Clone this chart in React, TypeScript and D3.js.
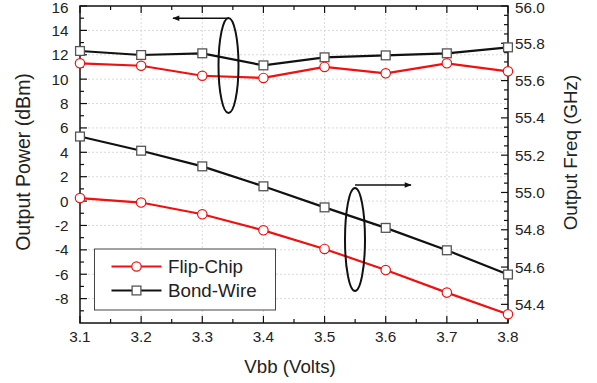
import React from "react";
import * as d3 from "d3";

const vbb = [3.1, 3.2, 3.3, 3.4, 3.5, 3.6, 3.7, 3.8];
const powerFlipChip = [11.3, 11.1, 10.28, 10.1, 11.0, 10.48, 11.3, 10.64];
const powerBondWire = [12.31, 11.98, 12.12, 11.13, 11.79, 11.95, 12.12, 12.61];
const freqFlipChip = [54.97, 54.946, 54.883, 54.797, 54.697, 54.584, 54.463, 54.347];
const freqBondWire = [55.3, 55.224, 55.14, 55.033, 54.92, 54.81, 54.69, 54.56];

const xTicks = [3.1, 3.2, 3.3, 3.4, 3.5, 3.6, 3.7, 3.8];
const leftTicks = [-8, -6, -4, -2, 0, 2, 4, 6, 8, 10, 12, 14, 16];
const rightTicks = [54.4, 54.6, 54.8, 55.0, 55.2, 55.4, 55.6, 55.8, 56.0];
const legendLabels = ["Flip-Chip", "Bond-Wire"];

const W = 597, H = 383;
const L = 80, R = 508, T = 6, B = 323;
const RED = "#f01010";
const FONT = "'Liberation Sans', Arial, Helvetica, sans-serif";

export default function App() {
  const x = d3.scaleLinear().domain([3.1, 3.8]).range([L, R]);
  const yL = d3.scaleLinear().domain([-10, 16]).range([B, T]);
  const yR = d3.scaleLinear().domain([54.3, 56.0]).range([B, T]);

  const lineL = d3.line<number>().x((_, i) => x(vbb[i])).y((d) => yL(d));
  const lineR = d3.line<number>().x((_, i) => x(vbb[i])).y((d) => yR(d));

  const xMinor = d3.range(3.15, 3.8, 0.1);
  const leftMinor = d3.range(-9, 16, 2);
  const rightMinor = d3.range(54.35, 56.0, 0.05).filter((v) => Math.abs(Math.round(v * 5) - v * 5) > 0.01);

  const labelY = (py: number) => Math.max(py + 5.5, 12.5);

  const circle = (cx: number, cy: number, k: string) => (
    <circle key={k} cx={cx} cy={cy} r={4.7} fill="white" stroke={RED} strokeWidth={1.2} />
  );
  const square = (cx: number, cy: number, k: string) => (
    <rect key={k} x={cx - 4.4} y={cy - 4.4} width={8.8} height={8.8} fill="white" stroke="#555" strokeWidth={1.3} />
  );

  return (
    <svg width={W} height={H} style={{ position: "absolute", left: 0, top: 0, background: "white" }} fontFamily={FONT}>
      <defs>
        <marker id="ah" viewBox="0 0 10 10" refX="9" refY="5" markerWidth="9" markerHeight="7" orient="auto-start-reverse" markerUnits="userSpaceOnUse">
          <path d="M0,1 L10,5 L0,9 Z" fill="#111" />
        </marker>
      </defs>
      {/* grid */}
      <g stroke="#d0d0d0" strokeWidth={0.8} strokeDasharray="2,2">
        {xTicks.slice(1, -1).map((t) => (
          <line key={"gx" + t} x1={x(t)} x2={x(t)} y1={T} y2={B} />
        ))}
        {leftTicks.slice(0, -1).map((t) => (
          <line key={"gy" + t} x1={L} x2={R} y1={yL(t)} y2={yL(t)} />
        ))}
      </g>
      {/* ticks */}
      <g stroke="#111" strokeWidth={1.2}>
        {xTicks.map((t) => (
          <g key={"xt" + t}>
            <line x1={x(t)} x2={x(t)} y1={B} y2={B - 7} />
            <line x1={x(t)} x2={x(t)} y1={T} y2={T + 7} />
          </g>
        ))}
        {xMinor.map((t) => (
          <g key={"xm" + t}>
            <line x1={x(t)} x2={x(t)} y1={B} y2={B - 4} />
            <line x1={x(t)} x2={x(t)} y1={T} y2={T + 4} />
          </g>
        ))}
        {leftTicks.map((t) => (
          <line key={"lt" + t} x1={L} x2={L + 7} y1={yL(t)} y2={yL(t)} />
        ))}
        {leftMinor.map((t) => (
          <line key={"lm" + t} x1={L} x2={L + 4} y1={yL(t)} y2={yL(t)} />
        ))}
        {rightTicks.map((t) => (
          <line key={"rt" + t} x1={R} x2={R - 7} y1={yR(t)} y2={yR(t)} />
        ))}
        {rightMinor.map((t) => (
          <line key={"rm" + t} x1={R} x2={R - 4} y1={yR(t)} y2={yR(t)} />
        ))}
      </g>
      {/* frame */}
      <rect x={L} y={T} width={R - L} height={B - T} fill="none" stroke="#111" strokeWidth={1.5} />
      {/* tick labels */}
      <g fontSize={15.3} fill="#222">
        {xTicks.map((t) => (
          <text key={"xl" + t} x={x(t)} y={342} textAnchor="middle">{t.toFixed(1)}</text>
        ))}
        {leftTicks.map((t) => (
          <text key={"ll" + t} x={68.5} y={labelY(yL(t))} textAnchor="end">{t}</text>
        ))}
        {rightTicks.map((t) => (
          <text key={"rl" + t} x={515} y={labelY(yR(t))} textAnchor="start">{t.toFixed(1)}</text>
        ))}
      </g>
      {/* axis titles */}
      <g fill="#222">
        <text x={290} y={373} textAnchor="middle" fontSize={18.7}>Vbb (Volts)</text>
        <text transform="translate(30,162) rotate(-90)" textAnchor="middle" fontSize={19.5}>Output Power (dBm)</text>
        <text transform="translate(576.5,152.5) rotate(-90)" textAnchor="middle" fontSize={18.8}>Output Freq (GHz)</text>
      </g>
      {/* data lines */}
      <g fill="none" strokeWidth={2.2}>
        <path d={lineL(powerBondWire) || ""} stroke="#111" />
        <path d={lineL(powerFlipChip) || ""} stroke={RED} />
        <path d={lineR(freqBondWire) || ""} stroke="#111" />
        <path d={lineR(freqFlipChip) || ""} stroke={RED} />
      </g>
      {powerBondWire.map((v, i) => square(x(vbb[i]), yL(v), "pb" + i))}
      {powerFlipChip.map((v, i) => circle(x(vbb[i]), yL(v), "pf" + i))}
      {freqBondWire.map((v, i) => square(x(vbb[i]), yR(v), "fb" + i))}
      {freqFlipChip.map((v, i) => circle(x(vbb[i]), yR(v), "ff" + i))}
      {/* annotations */}
      <g fill="none" stroke="#111" strokeWidth={2}>
        <ellipse cx={228.5} cy={65.5} rx={10} ry={47.5} />
        <line x1={229} y1={18.3} x2={173} y2={18.3} markerEnd="url(#ah)" strokeWidth={1.6} />
        <ellipse cx={355} cy={239.5} rx={10} ry={51.5} />
        <line x1={355} y1={185} x2={411} y2={185} markerEnd="url(#ah)" strokeWidth={1.6} />
      </g>
      {/* legend */}
      <rect x={94.5} y={249} width={181} height={61} fill="white" stroke="#444" strokeWidth={1} />
      <line x1={111.5} x2={161.5} y1={266.5} y2={266.5} stroke={RED} strokeWidth={2.2} />
      {circle(136.5, 266.5, "lc")}
      <line x1={111.5} x2={161.5} y1={290.5} y2={290.5} stroke="#111" strokeWidth={2.2} />
      {square(136.5, 290.5, "ls")}
      <g fontSize={18.75} fill="#222">
        <text x={168} y={273.3}>{legendLabels[0]}</text>
        <text x={168} y={296.7}>{legendLabels[1]}</text>
      </g>
    </svg>
  );
}
